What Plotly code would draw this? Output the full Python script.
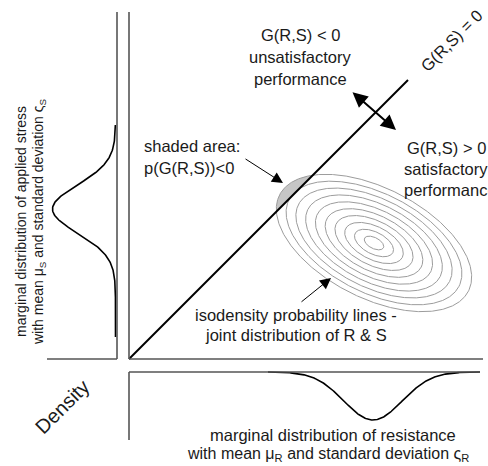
import numpy as np
import plotly.graph_objects as go

W, H = 488, 466

# ---- diagram values (diagram units = pixels of the 488x466 canvas) ----
# joint distribution of R (resistance, horizontal) and S (stress, vertical)
joint_centre = [374, 243]
ellipse_semi_axes = [106, 55]
ellipse_tilt_deg = 27
contour_scales = [0.1, 0.2, 0.3, 0.4, 0.5, 0.6, 0.7, 0.8, 0.9, 1.0]

# marginal of applied stress (left panel)
stress_marginal = dict(mean=209, sd=24, peak=63, base=115.5, lo=125, hi=337)
# marginal of resistance (bottom panel)
resist_marginal = dict(mean=373, sd=29, peak=48, base=372, lo=268, hi=480)

# frame of the panels
main_origin = [129, 359]
main_top = 12
main_right = 483
left_panel = dict(x=117, left=47)
bottom_panel = dict(top=372, bottom=440, right=480)
limit_state_end = 408

TXT = "#1a1a1a"
AX = "#555555"
FONT = "Liberation Sans, Arial, sans-serif"
FS = 16.5

fig = go.Figure()

phi = np.radians(ellipse_tilt_deg)
t = np.linspace(0, 2 * np.pi, 721)
cx, cy = joint_centre
a, b = ellipse_semi_axes
line_c = main_origin[0] + main_origin[1]


def ellipse(s):
    u = a * s * np.cos(t)
    v = b * s * np.sin(t)
    return cx + u * np.cos(phi) - v * np.sin(phi), cy + u * np.sin(phi) + v * np.cos(phi)


# shaded failure region
ox, oy = ellipse(contour_scales[-1])
m = ox + oy < line_c
px, py = ox[m], oy[m]
ang = np.arctan2(py - py.mean(), px - px.mean())
o = np.argsort(ang)
fig.add_trace(go.Scatter(x=list(px[o]) + [px[o][0]], y=list(py[o]) + [py[o][0]],
                         fill="toself", fillcolor="#c6c6c6", mode="lines",
                         line=dict(width=0, color="#c6c6c6"), hoverinfo="skip"))

for s in contour_scales:
    ex, ey = ellipse(s)
    fig.add_trace(go.Scatter(x=ex, y=ey, mode="lines",
                             line=dict(color="#9c9c9c", width=1), hoverinfo="skip"))

x0, y0 = main_origin
fig.add_trace(go.Scatter(x=[x0, limit_state_end], y=[y0, y0 - (limit_state_end - x0)],
                         mode="lines", line=dict(color="black", width=2), hoverinfo="skip"))

sm = stress_marginal
ys = np.linspace(sm["lo"], sm["hi"], 300)
xs = sm["base"] - sm["peak"] * np.exp(-0.5 * ((ys - sm["mean"]) / sm["sd"]) ** 2)
fig.add_trace(go.Scatter(x=xs, y=ys, mode="lines", line=dict(color="black", width=1.6),
                         hoverinfo="skip"))

rm = resist_marginal
xr = np.linspace(rm["lo"], rm["hi"], 300)
yr = rm["base"] + rm["peak"] * np.exp(-0.5 * ((xr - rm["mean"]) / rm["sd"]) ** 2)


def seg(xa, ya, xb, yb, color=AX, width=1.6):
    fig.add_shape(type="line", x0=xa, y0=ya, x1=xb, y1=yb, xref="x", yref="y",
                  line=dict(color=color, width=width))


seg(x0, main_top, x0, y0)
seg(x0, y0, main_right, y0)
seg(left_panel["x"], main_top, left_panel["x"], y0)
seg(left_panel["left"], y0, left_panel["x"], y0)
seg(x0, bottom_panel["top"], bottom_panel["right"], bottom_panel["top"])
seg(x0, bottom_panel["top"], x0, bottom_panel["bottom"])

fig.add_trace(go.Scatter(x=xr, y=yr, mode="lines", line=dict(color="black", width=1.6),
                         hoverinfo="skip"))


def txt(x, y, text, size=FS, angle=0, xanchor="center"):
    fig.add_annotation(x=x, y=y, xref="x", yref="y", text=text, showarrow=False,
                       font=dict(family=FONT, size=size, color=TXT), textangle=angle,
                       xanchor=xanchor, yanchor="middle")


txt(300, 35, "G(R,S) &lt; 0")
txt(300, 57, "unsatisfactory")
txt(300, 79, "performance")
txt(446, 148, "G(R,S) &gt; 0")
txt(446, 169, "satisfactory")
txt(450, 190, "performance")
txt(142, 146, "shaded area:", xanchor="left")
txt(142, 168, "p(G(R,S))&lt;0", xanchor="left")
txt(296, 315, "isodensity probability lines -")
txt(296, 335, "joint distribution of R &amp; S")
txt(333, 435, "marginal distribution of resistance")
txt(328, 454, "with mean μ<sub>R</sub> and standard deviation ς<sub>R</sub>", size=16)
txt(21, 222, "marginal distribution of applied stress", size=14, angle=-90)
txt(39, 222, "with mean μ<sub>S</sub> and standard deviation ς<sub>S</sub>", size=14, angle=-90)
txt(451, 41, "G(R,S) = 0", angle=-45)
txt(62, 407, "Density", size=20, angle=-45)


def arrow(xh, yh, xt, yt, width=1, size=1.0, both=False):
    fig.add_annotation(x=xh, y=yh, ax=xt, ay=yt, xref="x", yref="y", axref="x", ayref="y",
                       text="", showarrow=True, arrowhead=2, arrowsize=size,
                       arrowwidth=width, arrowcolor="black",
                       arrowside="end+start" if both else "end", startarrowhead=2,
                       startarrowsize=size)


arrow(283, 183, 244, 158, width=1, size=2.2)
arrow(331, 278, 300, 303, width=1, size=2.2)
arrow(396, 130, 351, 91, width=2, size=1.5, both=True)

fig.update_layout(width=W, height=H,
                  margin=dict(l=0, r=0, t=0, b=0, pad=0),
                  paper_bgcolor="white", plot_bgcolor="white", showlegend=False,
                  xaxis=dict(range=[0, W], visible=False, fixedrange=True),
                  yaxis=dict(range=[H, 0], visible=False, fixedrange=True))

fig.write_html("out.html", config={"displayModeBar": False},
               post_script="document.body.style.margin='0';document.body.style.overflow='hidden';")
